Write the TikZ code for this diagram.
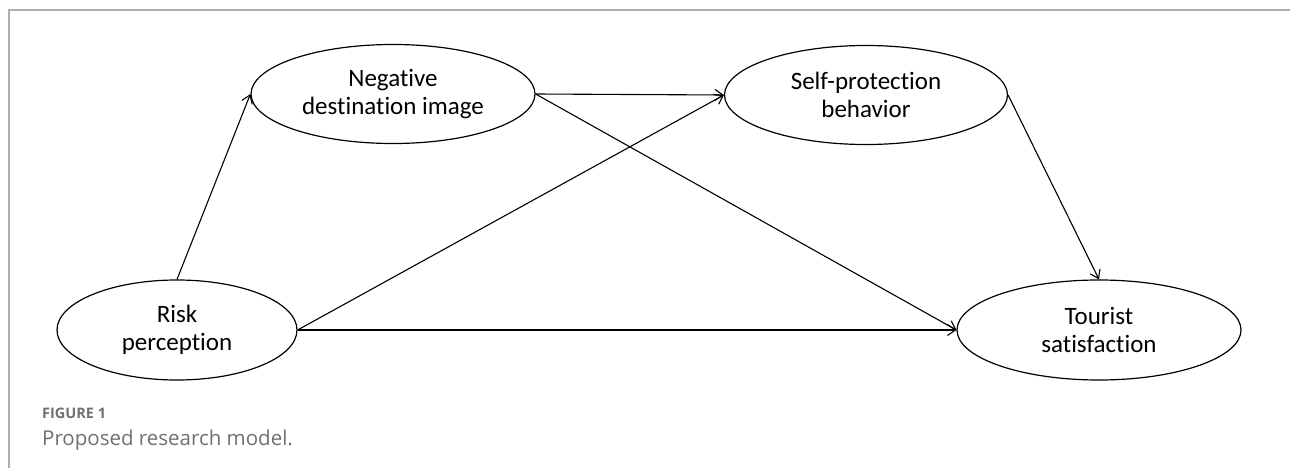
\documentclass[tikz,border=0pt]{standalone}
\usepackage{fontspec}
\setmainfont{Carlito}[Ligatures={NoCommon}]
\newfontfamily\capfont{Open Sans}
\usetikzlibrary{shapes.geometric,arrows.meta}
\definecolor{framegray}{HTML}{B0B0B0}
\definecolor{capgray}{HTML}{707070}
\begin{document}
\begin{tikzpicture}[x=1pt,y=-1pt,
  latent/.style={ellipse,draw=black,line width=1.2pt,inner sep=0pt,
    align=center,font=\fontsize{25}{28.5}\selectfont},
  link/.style={line width=1.1pt,-{Straight Barb[length=8pt,width=11pt,line width=1.1pt]}}]
\useasboundingbox (0,0) rectangle (1290,468);
\fill[white] (0,0) rectangle (1290,468);
\draw[framegray,line width=1.5pt] (9,468) -- (9,10) -- (1290,10);
\node[latent,minimum width=240pt,minimum height=100pt] (rp) at (177,330) {Risk\\perception};
\node[latent,minimum width=284pt,minimum height=99pt] (ndi) at (393,94) {Negative\\destination image};
\node[latent,minimum width=283pt,minimum height=99pt] (spb) at (866,95) {Self-protection\\behavior};
\node[latent,minimum width=284pt,minimum height=100pt] (ts) at (1099,330) {Tourist\\satisfaction};
\draw[link] (rp.north) -- (ndi.west);
\draw[link] (ndi.east) -- (spb.west);
\draw[link] (rp.east) -- (spb.west);
\draw[link] (ndi.east) -- (ts.west);
\draw[link] (rp.east) -- (ts.west);
\draw[link] (spb.east) -- (ts.north);
\node[anchor=base west,inner sep=0pt,text=capgray,font=\capfont\bfseries\fontsize{14.5}{16}\selectfont] (fig) at (42,418) {FIGURE 1};
\node[anchor=base west,inner sep=0pt,text=capgray,font=\capfont\fontsize{20.5}{23}\selectfont] (cap) at (42,445) {Proposed research model.};
\end{tikzpicture}
\end{document}
